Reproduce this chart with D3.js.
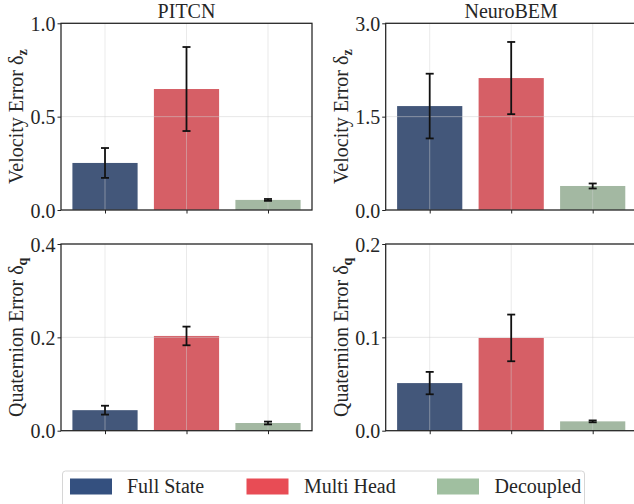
<!DOCTYPE html>
<html>
<head>
<meta charset="utf-8">
<script src="https://cdn.jsdelivr.net/npm/d3@7"></script>
<style>
  body { margin: 0; background: #fff; }
  svg text { font-family: "Liberation Serif", "DejaVu Serif", serif !important; fill: #262626; }
</style>
</head>
<body>
<svg width="634" height="504"></svg>
<script>
const models = ['Full State', 'Multi Head', 'Decoupled'];
const barColors = ['#43577a', '#d65f66', '#a3b8a2'];
const legendColors = ['#34507f', '#e84c55', '#a0bfa0'];

// values and std for each panel
const pitcnVel = [0.252, 0.648, 0.054];
const pitcnVelErr = [0.08, 0.225, 0.005];
const neuroVel = [1.67, 2.12, 0.386];
const neuroVelErr = [0.52, 0.58, 0.04];
const pitcnQuat = [0.044, 0.203, 0.0165];
const pitcnQuatErr = [0.0095, 0.02, 0.003];
const neuroQuat = [0.051, 0.0994, 0.010];
const neuroQuatErr = [0.012, 0.025, 0.001];

const titles = ['PITCN', 'NeuroBEM'];
const velTicks = [[0, 0.5, 1.0], [0, 1.5, 3.0]];
const quatTicks = [[0, 0.2, 0.4], [0, 0.1, 0.2]];

const svg = d3.select('svg');

let panels = [
  { left: 61, top: 23.3, vals: pitcnVel, errs: pitcnVelErr, ticks: velTicks[0], title: titles[0], label: 'Velocity Error ', sub: 'z' },
  { left: 385.7, top: 23.3, vals: neuroVel, errs: neuroVelErr, ticks: velTicks[1], title: titles[1], label: 'Velocity Error ', sub: 'z' },
  { left: 61, top: 244, vals: pitcnQuat, errs: pitcnQuatErr, ticks: quatTicks[0], title: null, label: 'Quaternion Error ', sub: 'q' },
  { left: 385.7, top: 244, vals: neuroQuat, errs: neuroQuatErr, ticks: quatTicks[1], title: null, label: 'Quaternion Error ', sub: 'q' },
];

const W = 251, H = 186.7;

panels.forEach((p) => {
  let g = svg.append('g').attr('transform', `translate(${p.left},${p.top})`);

  let x = d3.scaleLinear().domain([-0.54, 2.54]).range([0, W]);
  let y = d3.scaleLinear().domain([0, p.ticks[2]]).range([H, 0]);

  // bars
  g.selectAll('rect.bar')
    .data(p.vals)
    .join('rect')
    .attr('x', (d, i) => x(i - 0.4))
    .attr('width', x(0.8) - x(0))
    .attr('y', (d) => y(d))
    .attr('height', (d) => H - y(d))
    .attr('fill', (d, i) => barColors[i]);

  // grid on top
  g.selectAll('line.hg')
    .data(p.ticks)
    .join('line')
    .attr('x1', 0).attr('x2', W)
    .attr('y1', (d) => y(d)).attr('y2', (d) => y(d))
    .attr('stroke', '#d0d0d0').attr('stroke-opacity', 0.5).attr('stroke-width', 1);
  g.selectAll('line.vg')
    .data(p.vals)
    .join('line')
    .attr('x1', (d, i) => x(i)).attr('x2', (d, i) => x(i))
    .attr('y1', 0).attr('y2', H)
    .attr('stroke', '#d0d0d0').attr('stroke-opacity', 0.45).attr('stroke-width', 1);

  // error bars
  p.vals.forEach((v, i) => {
    let e = p.errs[i];
    let cx = x(i);
    g.append('line').attr('x1', cx).attr('x2', cx).attr('y1', y(v - e)).attr('y2', y(v + e))
      .attr('stroke', '#111').attr('stroke-width', 1.8);
    [v - e, v + e].forEach((t) => {
      g.append('line').attr('x1', cx - 4).attr('x2', cx + 4).attr('y1', y(t)).attr('y2', y(t))
        .attr('stroke', '#111').attr('stroke-width', 1.8);
    });
  });

  // axes
  let yAxis = d3.axisLeft(y).tickValues(p.ticks).tickFormat(d3.format('.1f')).tickSize(3.5).tickPadding(2);
  let yg = g.append('g').call(yAxis).attr('font-family', null);
  yg.select('.domain').remove();
  yg.selectAll('text').style('font-size', '20px').attr('dy', '0.35em');
  yg.selectAll('line').attr('stroke', '#222');

  let xAxis = d3.axisBottom(x).tickValues([0, 1, 2]).tickFormat('').tickSize(3.5);
  let xg = g.append('g').attr('transform', `translate(0,${H})`).call(xAxis);
  xg.select('.domain').remove();
  xg.selectAll('line').attr('stroke', '#222');

  // frame
  g.append('rect').attr('x', 0).attr('y', 0).attr('width', W).attr('height', H)
    .attr('fill', 'none').attr('stroke', '#222').attr('stroke-width', 1.25);

  if (p.title) {
    g.append('text').attr('x', W / 2).attr('y', -5).attr('text-anchor', 'middle')
      .style('font-size', '20px').text(p.title);
  }

  let lab = g.append('text')
    .attr('transform', `translate(${-38},${H / 2}) rotate(-90)`)
    .attr('text-anchor', 'middle')
    .style('font-size', '20px');
  lab.append('tspan').text(p.label + 'δ');
  lab.append('tspan').attr('baseline-shift', '-25%').style('font-size', '14px')
    .style('font-weight', 'bold').text(p.sub);
});

// legend
let leg = svg.append('g');
leg.append('rect').attr('x', 62.5).attr('y', 471).attr('width', 522).attr('height', 38)
  .attr('rx', 3).attr('fill', '#fff').attr('stroke', '#d6d6d6').attr('stroke-width', 1);
const swatchX = [70, 246.5, 437];
const textX = [127, 304, 494.6];
models.forEach((m, i) => {
  leg.append('rect').attr('x', swatchX[i]).attr('y', 478.5).attr('width', 42).attr('height', 16)
    .attr('fill', legendColors[i]);
  leg.append('text').attr('x', textX[i]).attr('y', 493).style('font-size', '20px').text(m);
});
</script>
</body>
</html>
